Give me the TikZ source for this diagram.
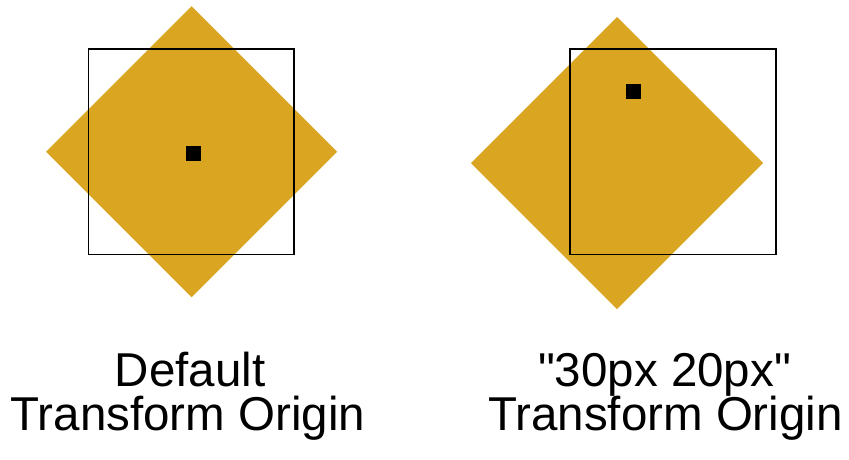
\documentclass[tikz,border=0pt]{standalone}
\usepackage{fontspec}
\newfontfamily\labfont{Liberation Sans}
\definecolor{gold}{RGB}{218,165,32}
\begin{document}
\begin{tikzpicture}[x=1pt,y=-1pt,
  diam/.style={fill=gold,draw=none},
  frame/.style={draw=black,line width=1.8pt},
  dot/.style={fill=black,draw=none},
  lbl/.style={font=\labfont\fontsize{47.5}{44}\selectfont,align=center,anchor=base,inner sep=0pt}]
\useasboundingbox[fill=white] (0,0) rectangle (849,459);
% left
\fill[diam] (191.7,6.2) -- (337.2,151.7) -- (191.7,297.2) -- (46.2,151.7) -- cycle;
\draw[frame] (88.5,49) rectangle (294,254.5);
\fill[dot] (185.8,146.3) rectangle (200.8,161.3);
% right
\fill[diam] (617,17) -- (763,163) -- (617,309) -- (471,163) -- cycle;
\draw[frame] (570,49) rectangle (776,254.5);
\fill[dot] (625.8,84.2) rectangle (640.8,99.2);
% labels
\node[lbl] (l1) at (190,386.7) {Default};
\node[lbl] (l2) at (188,430.7) {Transform Origin};
\node[lbl] (r1) at (664.5,386.7) {"30px 20px"};
\node[lbl] (r2) at (665.5,430.7) {Transform Origin};
\end{tikzpicture}
\end{document}
